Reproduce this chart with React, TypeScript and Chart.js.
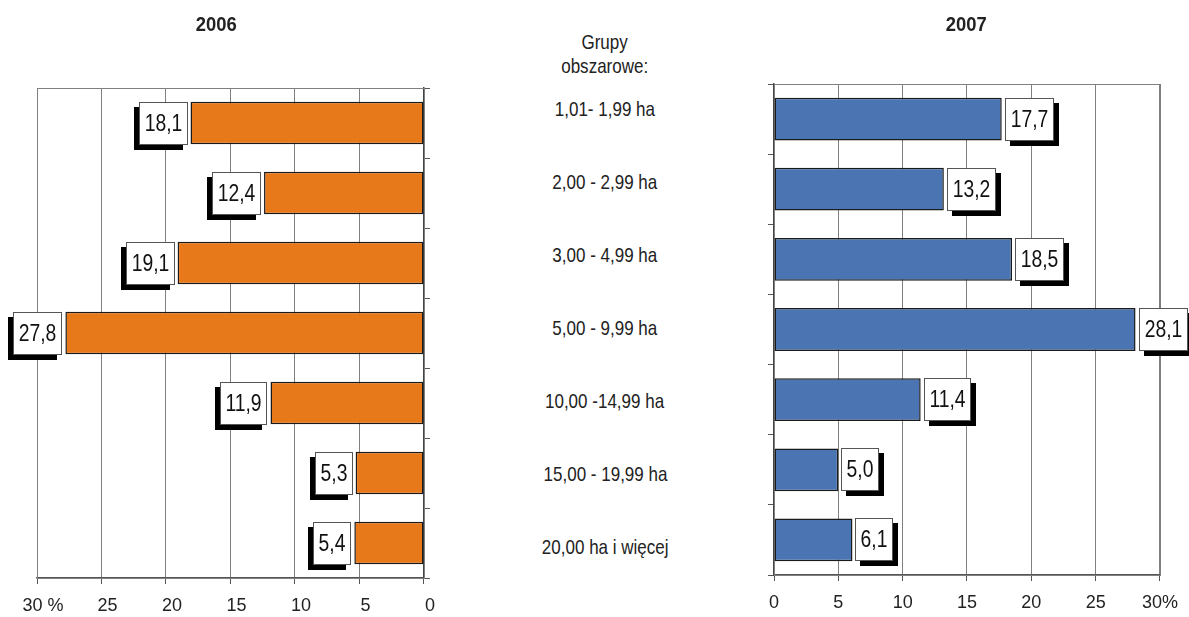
import React, { useEffect, useRef } from "react";
import { Chart, registerables } from "chart.js";

Chart.register(...registerables);

const categories = [
  "1,01- 1,99 ha",
  "2,00 - 2,99 ha",
  "3,00 - 4,99 ha",
  "5,00 - 9,99 ha",
  "10,00 -14,99 ha",
  "15,00 - 19,99 ha",
  "20,00 ha i więcej",
];
const values2006 = [18.1, 12.4, 19.1, 27.8, 11.9, 5.3, 5.4];
const values2007 = [17.7, 13.2, 18.5, 28.1, 11.4, 5.0, 6.1];
const title2006 = "2006";
const title2007 = "2007";
const headerLines = ["Grupy", "obszarowe:"];
const axisMax = 30;
const axisStep = 5;

const FONT = "'Liberation Sans', Arial, sans-serif";
const LABEL_SCALE = 0.84;
const TEXT_SCALE = 0.81;
const ORANGE = "#E8791A";
const BLUE = "#4A74B2";

const fmt = (v: number) => v.toFixed(1).replace(".", ",");

const framePlugin = {
  id: "frame",
  beforeDatasetsDraw(chart: any) {
    const { ctx, chartArea } = chart;
    ctx.save();
    ctx.strokeStyle = "#808080";
    ctx.lineWidth = 1;
    ctx.strokeRect(
      Math.round(chartArea.left) + 0.5,
      Math.round(chartArea.top) + 0.5,
      Math.round(chartArea.right - chartArea.left),
      Math.round(chartArea.bottom - chartArea.top)
    );
    ctx.restore();
  },
};

const labelPlugin = {
  id: "boxLabels",
  afterDatasetsDraw(chart: any, _args: any, opts: any) {
    const { ctx } = chart;
    const side = opts.side; // 'left' or 'right'
    const meta = chart.getDatasetMeta(0);
    const data = chart.data.datasets[0].data as number[];
    ctx.save();
    ctx.font = `23px ${FONT}`;
    meta.data.forEach((el: any, i: number) => {
      const p = el.getProps(["x", "y", "base", "height"], true);
      const text = fmt(data[i]);
      const tw = ctx.measureText(text).width * LABEL_SCALE;
      const w = Math.round(tw + 11);
      const h = Math.round(p.height);
      const top = Math.round(p.y - h / 2);
      const left = side === "left" ? Math.round(p.x - 3 - w) : Math.round(p.x + 3);
      const sx = side === "left" ? -5 : 5;
      ctx.fillStyle = "#000";
      ctx.fillRect(left + sx, top + 5, w, h);
      ctx.fillStyle = "#fff";
      ctx.fillRect(left, top, w, h);
      ctx.strokeStyle = "#555";
      ctx.lineWidth = 1;
      ctx.strokeRect(left + 0.5, top + 0.5, w - 1, h - 1);
      ctx.save();
      ctx.translate(left + w / 2, top + h / 2 + 1);
      ctx.scale(LABEL_SCALE, 1);
      ctx.fillStyle = "#111";
      ctx.textAlign = "center";
      ctx.textBaseline = "middle";
      ctx.fillText(text, 0, 0);
      ctx.restore();
    });
    ctx.restore();
  },
};

function makeConfig(values: number[], color: string, left: boolean): any {
  return {
    type: "bar",
    data: {
      labels: categories,
      datasets: [
        {
          data: values,
          backgroundColor: color,
          borderColor: "#1a1a1a",
          borderWidth: 1.5,
          borderSkipped: false,
          categoryPercentage: 1,
          barPercentage: 0.61,
        },
      ],
    },
    options: {
      indexAxis: "y",
      animation: false,
      responsive: false,
      maintainAspectRatio: false,
      events: [],
      layout: {
        padding: left
          ? { left: 37, right: 0, top: 88, bottom: 0 }
          : { left: 18, right: 28, top: 84, bottom: 0 },
      },
      plugins: {
        legend: { display: false },
        title: { display: false },
        tooltip: { enabled: false },
        boxLabels: { side: left ? "left" : "right" },
      },
      scales: {
        x: {
          min: 0,
          max: axisMax,
          reverse: left,
          afterFit: (s: any) => {
            s.height = left ? 39 : 42;
          },
          ticks: {
            stepSize: axisStep,
            color: "#222",
            font: { family: FONT, size: 18 },
            padding: 11,
            labelOffset: left ? 6 : 0,
            maxRotation: 0,
            callback: (v: any) =>
              Number(v) === axisMax ? (left ? `${v} %` : `${v}%`) : `${v}`,
          },
          grid: {
            color: "#808080",
            lineWidth: 1,
            drawTicks: true,
            tickLength: 6,
            tickColor: "#555",
          },
          border: { color: "#555", width: 1.5 },
        },
        y: {
          position: left ? "right" : "left",
          afterFit: (s: any) => {
            s.width = 16;
          },
          ticks: { display: false },
          grid: {
            drawOnChartArea: false,
            drawTicks: true,
            tickLength: 6,
            tickColor: "#555",
            offset: true,
          },
          border: { color: "#444", width: 1.5 },
        },
      },
    },
    plugins: [framePlugin, labelPlugin],
  };
}

function BarPanel({ values, color, left, x, width }: any) {
  const ref = useRef<HTMLCanvasElement>(null);
  useEffect(() => {
    if (!ref.current) return;
    const chart = new Chart(ref.current, makeConfig(values, color, left));
    return () => chart.destroy();
  }, []);
  return (
    <canvas
      ref={ref}
      width={width}
      height={617}
      style={{ position: "absolute", left: x, top: 0, width, height: 617 }}
    />
  );
}

const condensed = (s: string, k: number) => (
  <span style={{ display: "inline-block", transform: `scaleX(${k})`, whiteSpace: "nowrap" }}>
    {s}
  </span>
);

export default function App() {
  const textStyle: React.CSSProperties = {
    fontFamily: FONT,
    color: "#222",
    fontSize: 21,
  };
  const titleStyle: React.CSSProperties = {
    ...textStyle,
    position: "absolute",
    width: 100,
    top: 12,
    textAlign: "center",
    fontWeight: "bold",
    fontSize: 20,
    lineHeight: "24px",
  };
  return (
    <div
      style={{
        position: "fixed",
        left: 0,
        top: 0,
        width: 1189,
        height: 617,
        background: "#fff",
        overflow: "hidden",
      }}
    >
      <BarPanel values={values2006} color={ORANGE} left={true} x={0} width={440} />
      <BarPanel values={values2007} color={BLUE} left={false} x={740} width={449} />
      <div style={{ ...titleStyle, left: 166 }}>{condensed(title2006, 0.92)}</div>
      <div style={{ ...titleStyle, left: 916 }}>{condensed(title2007, 0.92)}</div>
      <div
        style={{
          ...textStyle,
          position: "absolute",
          left: 480,
          width: 250,
          top: 30,
          textAlign: "center",
          lineHeight: "24px",
        }}
      >
        {headerLines.map((l) => (
          <div key={l}>{condensed(l, TEXT_SCALE)}</div>
        ))}
      </div>
      <div
        style={{
          ...textStyle,
          position: "absolute",
          left: 480,
          width: 250,
          top: 72,
          textAlign: "center",
        }}
      >
        {categories.map((c) => (
          <div key={c} style={{ height: 73, lineHeight: "73px", whiteSpace: "nowrap" }}>
            {condensed(c, TEXT_SCALE)}
          </div>
        ))}
      </div>
    </div>
  );
}
